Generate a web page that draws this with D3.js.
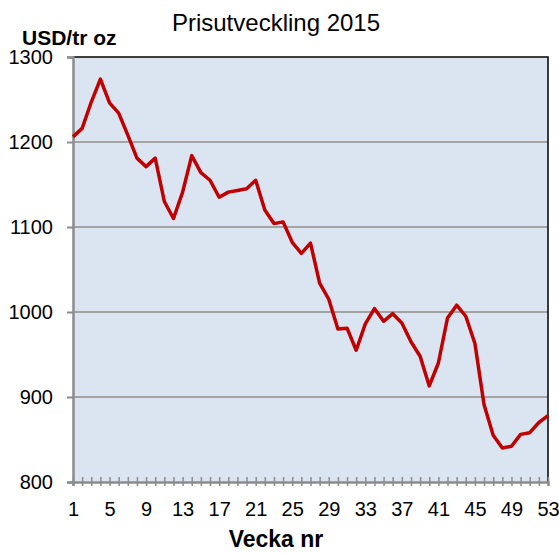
<!DOCTYPE html>
<html>
<head>
<meta charset="utf-8">
<script src="https://cdn.jsdelivr.net/npm/d3@7"></script>
<style>
  body { margin: 0; background: #fff; }
  text { font-family: "Liberation Sans", Arial, sans-serif; fill: #000; }
</style>
</head>
<body>
<div id="chart"></div>
<script>
const width = 559;
const height = 554;

const weeks = d3.range(1, 54);
const prices = [1206, 1216, 1247, 1274, 1246, 1234, 1208, 1181, 1171, 1181,
                1130, 1110, 1141, 1184, 1164, 1155, 1135, 1141, 1143, 1145,
                1155, 1120, 1104, 1106, 1082, 1069, 1081, 1034, 1015, 980,
                981, 955, 986, 1004, 989, 998, 987, 965, 948, 913,
                940, 993, 1008, 995, 963, 891, 855, 840, 842, 856,
                858, 870, 878];
const yTicks = [800, 900, 1000, 1100, 1200, 1300];
const xLabels = [1, 5, 9, 13, 17, 21, 25, 29, 33, 37, 41, 45, 49, 53];

const plotLeft = 73, plotRight = 548, plotTop = 57, plotBottom = 482;

const svg = d3.select("#chart").append("svg")
  .attr("width", width).attr("height", height);

const x = d3.scaleLinear().domain([1, 53]).range([plotLeft, plotRight]);
const y = d3.scaleLinear().domain([800, 1300]).range([plotBottom, plotTop]);

// plot background
svg.append("rect")
  .attr("x", plotLeft).attr("y", plotTop)
  .attr("width", plotRight - plotLeft).attr("height", plotBottom - plotTop)
  .attr("fill", "#dbe5f1");

// grid lines
svg.append("g").selectAll("line")
  .data(yTicks.filter(d => d > 800 && d < 1300))
  .join("line")
    .attr("x1", plotLeft).attr("x2", plotRight)
    .attr("y1", d => y(d)).attr("y2", d => y(d))
    .attr("stroke", "#a3a3a3").attr("stroke-width", 2);

// top and right border
svg.append("path")
  .attr("d", `M${plotLeft},${plotTop}H${plotRight}V${plotBottom}`)
  .attr("fill", "none").attr("stroke", "#000").attr("stroke-width", 1.5);

// y axis
const yAxis = svg.append("g")
  .attr("transform", `translate(${plotLeft},0)`)
  .call(d3.axisLeft(y).tickValues(yTicks).tickSize(6).tickPadding(14)
    .tickFormat(d3.format("d")));
yAxis.select(".domain").attr("stroke", "#8c8c8c").attr("stroke-width", 2.5);
yAxis.selectAll(".tick line").attr("stroke", "#8c8c8c").attr("stroke-width", 2);
yAxis.selectAll(".tick text").attr("font-size", 20).attr("font-family", "Liberation Sans");

// x axis
const xAxis = svg.append("g")
  .attr("transform", `translate(0,${plotBottom})`)
  .call(d3.axisBottom(x).tickValues(weeks).tickSize(4).tickPadding(16)
    .tickFormat(d => xLabels.includes(d) ? d : ""));
xAxis.select(".domain").attr("stroke", "#8c8c8c").attr("stroke-width", 2.5);
xAxis.selectAll(".tick line").attr("y1", -5).attr("y2", 4)
  .attr("stroke", "#8c8c8c").attr("stroke-width", 1.5);
xAxis.selectAll(".tick text").attr("font-size", 20).attr("font-family", "Liberation Sans");

// price line
svg.append("path")
  .datum(weeks)
  .attr("fill", "none")
  .attr("stroke", "#c00000")
  .attr("stroke-width", 3.5)
  .attr("stroke-linejoin", "round")
  .attr("d", d3.line().x(d => x(d)).y((d, i) => y(prices[i])));

// titles
svg.append("text")
  .attr("x", 276).attr("y", 31)
  .attr("text-anchor", "middle").attr("font-size", 24)
  .text("Prisutveckling 2015");

svg.append("text")
  .attr("x", 22).attr("y", 45)
  .attr("font-size", 21).attr("font-weight", "bold")
  .text("USD/tr oz");

svg.append("text")
  .attr("x", 276).attr("y", 547)
  .attr("text-anchor", "middle").attr("font-size", 23).attr("font-weight", "bold")
  .text("Vecka nr");
</script>
</body>
</html>
